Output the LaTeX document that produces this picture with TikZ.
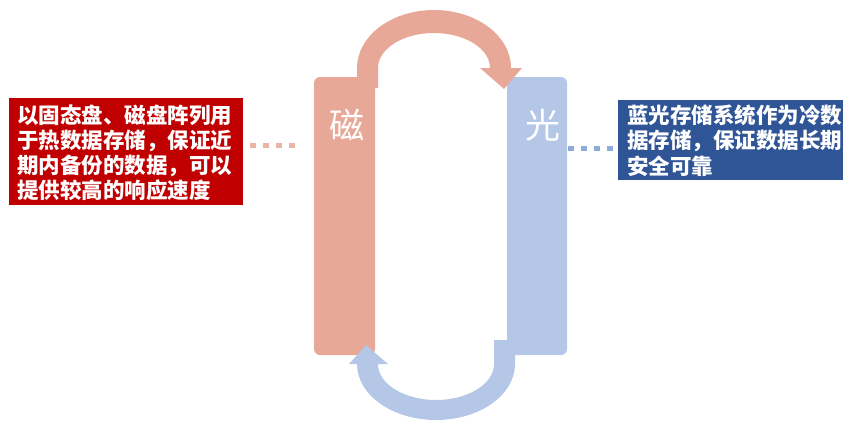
\documentclass[tikz,border=0pt]{standalone}
\usepackage{fontspec}
\newfontfamily\cjk{Noto Sans CJK SC}
\definecolor{salmon}{HTML}{E8A898}
\definecolor{salmondot}{HTML}{EBB5A6}
\definecolor{lblue}{HTML}{B4C7E7}
\definecolor{bluedot}{HTML}{8FAADC}
\definecolor{dred}{HTML}{C00000}
\definecolor{dblue}{HTML}{2F5597}
\tikzset{
  bar/.style={rounded corners=6pt},
  boxtxt/.style={anchor=base west, inner sep=0pt, text=white, font=\cjk\bfseries\fontsize{21.5}{25}\selectfont},
  bigtxt/.style={inner sep=0pt, text=white, font=\cjk\fontsize{35}{40}\selectfont},
  dotline/.style={line width=5pt, dash pattern=on 6pt off 7pt}
}
\begin{document}
\begin{tikzpicture}[x=1pt,y=1pt]
\useasboundingbox (0,0) rectangle (843,-423);
\clip (0,0) rectangle (843,-423);
% bars
\fill[salmon, bar] (314,-77) rectangle (375,-355);
\fill[lblue, bar] (507,-77) rectangle (567,-355);
\node[bigtxt] (ci) at (347,-125) {磁};
\node[bigtxt] (guang) at (543,-125) {光};
% top arrow (magnetic -> optical)
\fill[salmon] (357,-88) -- (357,-68)
  arc[start angle=180, end angle=0, x radius=77pt, y radius=58pt]
  -- (522,-68) -- (504,-89) -- (480,-68) -- (490,-68)
  arc[start angle=0, end angle=180, x radius=56pt, y radius=35pt]
  -- (378,-88) -- cycle;
% bottom arrow (optical -> magnetic)
\fill[lblue] (515,-340) -- (515,-364)
  arc[start angle=0, end angle=-180, x radius=79pt, y radius=56pt]
  -- (349,-364) -- (366,-345) -- (388,-364) -- (378,-364)
  arc[start angle=180, end angle=360, x radius=58pt, y radius=36pt]
  -- (494,-340) -- cycle;
% red box
\node[fill=dred, minimum width=234pt, minimum height=107pt, anchor=north west, inner sep=0pt] (rbox) at (9,-98) {};
\node[boxtxt] (r1) at (17,-123) {以固态盘、磁盘阵列用};
\node[boxtxt] (r2) at (17,-148) {于热数据存储，保证近};
\node[boxtxt] (r3) at (17,-173) {期内备份的数据，可以};
\node[boxtxt] (r4) at (17,-198) {提供较高的响应速度};
% blue box
\node[fill=dblue, minimum width=240pt, minimum height=80pt, anchor=north west, inner sep=0pt] (bbox) at (618,-100) {};
\node[boxtxt] (b1) at (627,-123) {蓝光存储系统作为冷数};
\node[boxtxt] (b2) at (627,-148) {据存储，保证数据长期};
\node[boxtxt] (b3) at (627,-174) {安全可靠};
% dotted connectors
\coordinate (ld1) at (250,-145);
\coordinate (ld2) at (296,-145);
\draw[dotline, salmondot] (ld1) -- (ld2);
\coordinate (rd1) at (568,-148);
\coordinate (rd2) at (614,-148);
\draw[dotline, bluedot] (rd1) -- (rd2);
\end{tikzpicture}
\end{document}
